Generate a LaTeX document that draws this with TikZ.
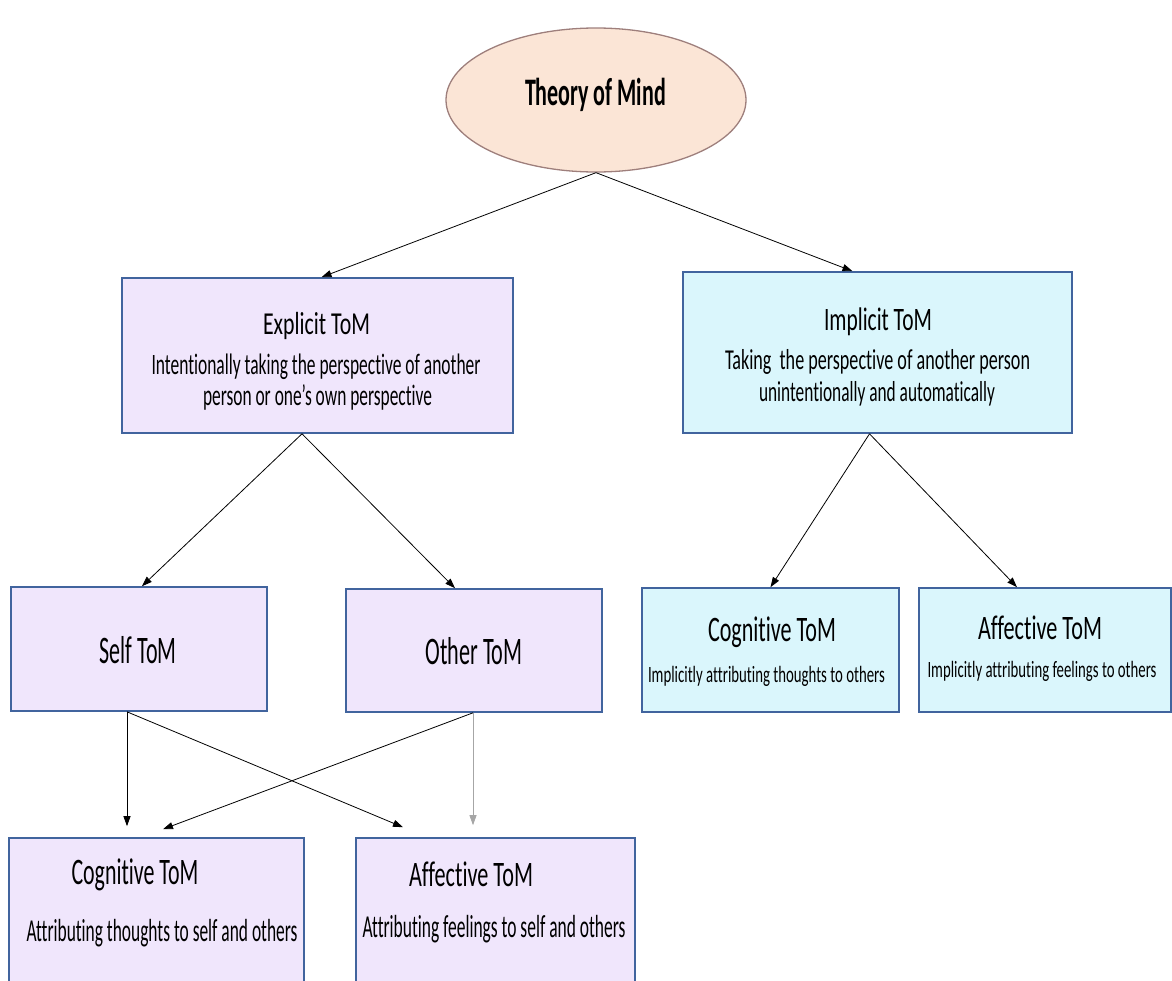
\documentclass[tikz,border=0pt]{standalone}
\usepackage{fontspec}
\setmainfont{Carlito}[Ligatures={NoCommon,NoContextual}]
\usepackage{graphicx}
\usetikzlibrary{arrows.meta,shapes.geometric,calc}
\newsavebox\fitbox
\newsavebox\fitcapbox
% #1 target width, #2 target cap height, #3 text
\newcommand\fitt[3]{%
  \sbox\fitbox{\fontsize{10}{12}\selectfont #3}%
  \sbox\fitcapbox{\fontsize{10}{12}\selectfont H}%
  \pgfmathsetmacro\fsx{#1/\the\wd\fitbox}%
  \pgfmathsetmacro\fsy{#2/\the\ht\fitcapbox}%
  \scalebox{\fsx}[\fsy]{\usebox\fitbox}}
\definecolor{lav}{HTML}{F0E6FC}
\definecolor{cyanl}{HTML}{DAF6FC}
\definecolor{bord}{HTML}{41649E}
\definecolor{peach}{HTML}{FBE5D6}
\definecolor{ellb}{HTML}{9E7F7C}
\definecolor{gline}{HTML}{A6A6A6}
\tikzset{
  bx/.style={draw=bord, line width=1.6pt, rectangle, inner sep=0pt},
  lbox/.style={bx, fill=lav},
  cbox/.style={bx, fill=cyanl},
  txt/.style={anchor=base, inner sep=0pt, text=black},
  arr/.style={-{Triangle[length=10pt,width=7pt]}, line width=0.8pt, black},
  garr/.style={arr, draw=gline},
}
\begin{document}
\begin{tikzpicture}[x=1pt,y=-1pt]
\useasboundingbox (0,0) rectangle (1172,980);
\clip (0,0) rectangle (1172,980);
% shapes
\node[ellipse, draw=ellb, line width=1.3pt, fill=peach, minimum width=300, minimum height=144, inner sep=0pt] (tom) at (596,100) {};
\node[lbox, minimum width=391, minimum height=155] (expl) at (317.5,355.5) {};
\node[cbox, minimum width=389, minimum height=161] (impl) at (877.5,352.5) {};
\node[lbox, minimum width=256, minimum height=124] (self) at (139,649) {};
\node[lbox, minimum width=256, minimum height=123] (other) at (474,650.5) {};
\node[cbox, minimum width=257, minimum height=124] (cogi) at (770.5,650) {};
\node[cbox, minimum width=252, minimum height=124] (affi) at (1045,650) {};
\node[lbox, minimum width=295, minimum height=170] (cogb) at (156.5,923) {};
\node[lbox, minimum width=279, minimum height=170] (affb) at (495.5,923) {};
% texts
\node[txt] (ttom) at (595.5,105) {\fitt{141}{25}{\bfseries Theory of Mind}};
\node[txt] (texp1) at (316.5,334) {\fitt{107}{20.5}{Explicit ToM}};
\node[txt] (texp2) at (316,374) {\fitt{329}{19}{Intentionally taking the perspective of another}};
\node[txt] (texp3) at (317.5,405) {\fitt{229}{19}{person or one’s own perspective}};
\node[txt] (timp1) at (878,330) {\fitt{108}{21}{Implicit ToM}};
\node[txt] (timp2) at (877.5,369) {\fitt{305}{18.5}{Taking~ the perspective of another person}};
\node[txt] (timp3) at (877,401) {\fitt{236}{18.5}{unintentionally and automatically}};
\node[txt] (tself) at (138,663) {\fitt{77}{25}{Self ToM}};
\node[txt] (tother) at (474,664) {\fitt{97}{25}{Other ToM}};
\node[txt] (tcogi1) at (772,641) {\fitt{128}{23}{Cognitive ToM}};
\node[txt] (tcogi2) at (766.5,682) {\fitt{237}{15}{Implicitly attributing thoughts to others}};
\node[txt] (taffi1) at (1040,639) {\fitt{124}{22}{Affective ToM}};
\node[txt] (taffi2) at (1042,677) {\fitt{229}{15}{Implicitly attributing feelings to others}};
\node[txt] (tcogb1) at (135,884) {\fitt{127}{24}{Cognitive ToM}};
\node[txt] (tcogb2) at (162,941) {\fitt{271}{20.5}{Attributing thoughts to self and others}};
\node[txt] (taffb1) at (471,886) {\fitt{124}{23}{Affective ToM}};
\node[txt] (taffb2) at (494,937) {\fitt{263}{20.5}{Attributing feelings to self and others}};
% connector points
\coordinate (eb) at ($(expl.south)+(-15.5,0)$);
\coordinate (ib) at ($(impl.south)+(-8,0)$);
\coordinate (sb) at ($(self.south)+(-12,0)$);
\coordinate (ob) at ($(other.south)+(-1,0)$);
\coordinate (e1) at ($(cogb.north)+(-29.5,-11)$);
\coordinate (e2) at ($(affb.north)+(-92.5,-10)$);
\coordinate (e3) at ($(cogb.north)+(6.5,-8)$);
\coordinate (e4) at ($(affb.north)+(-22.5,-12)$);
% connectors
\draw[arr] (tom.south) -- ($(expl.north)+(4,0)$);
\draw[arr] (tom.south) -- ($(impl.north)+(-25,0)$);
\draw[arr] (eb) -- ($(self.north)+(3,0)$);
\draw[arr] (eb) -- ($(other.north)+(-19,0)$);
\draw[arr] (ib) -- (cogi.north);
\draw[arr] (ib) -- ($(affi.north)+(-28,0)$);
\draw[arr] (sb) -- (e1);
\draw[arr] (sb) -- (e2);
\draw[arr] (ob) -- (e3);
\draw[garr] (ob) -- (e4);
\end{tikzpicture}
\end{document}
